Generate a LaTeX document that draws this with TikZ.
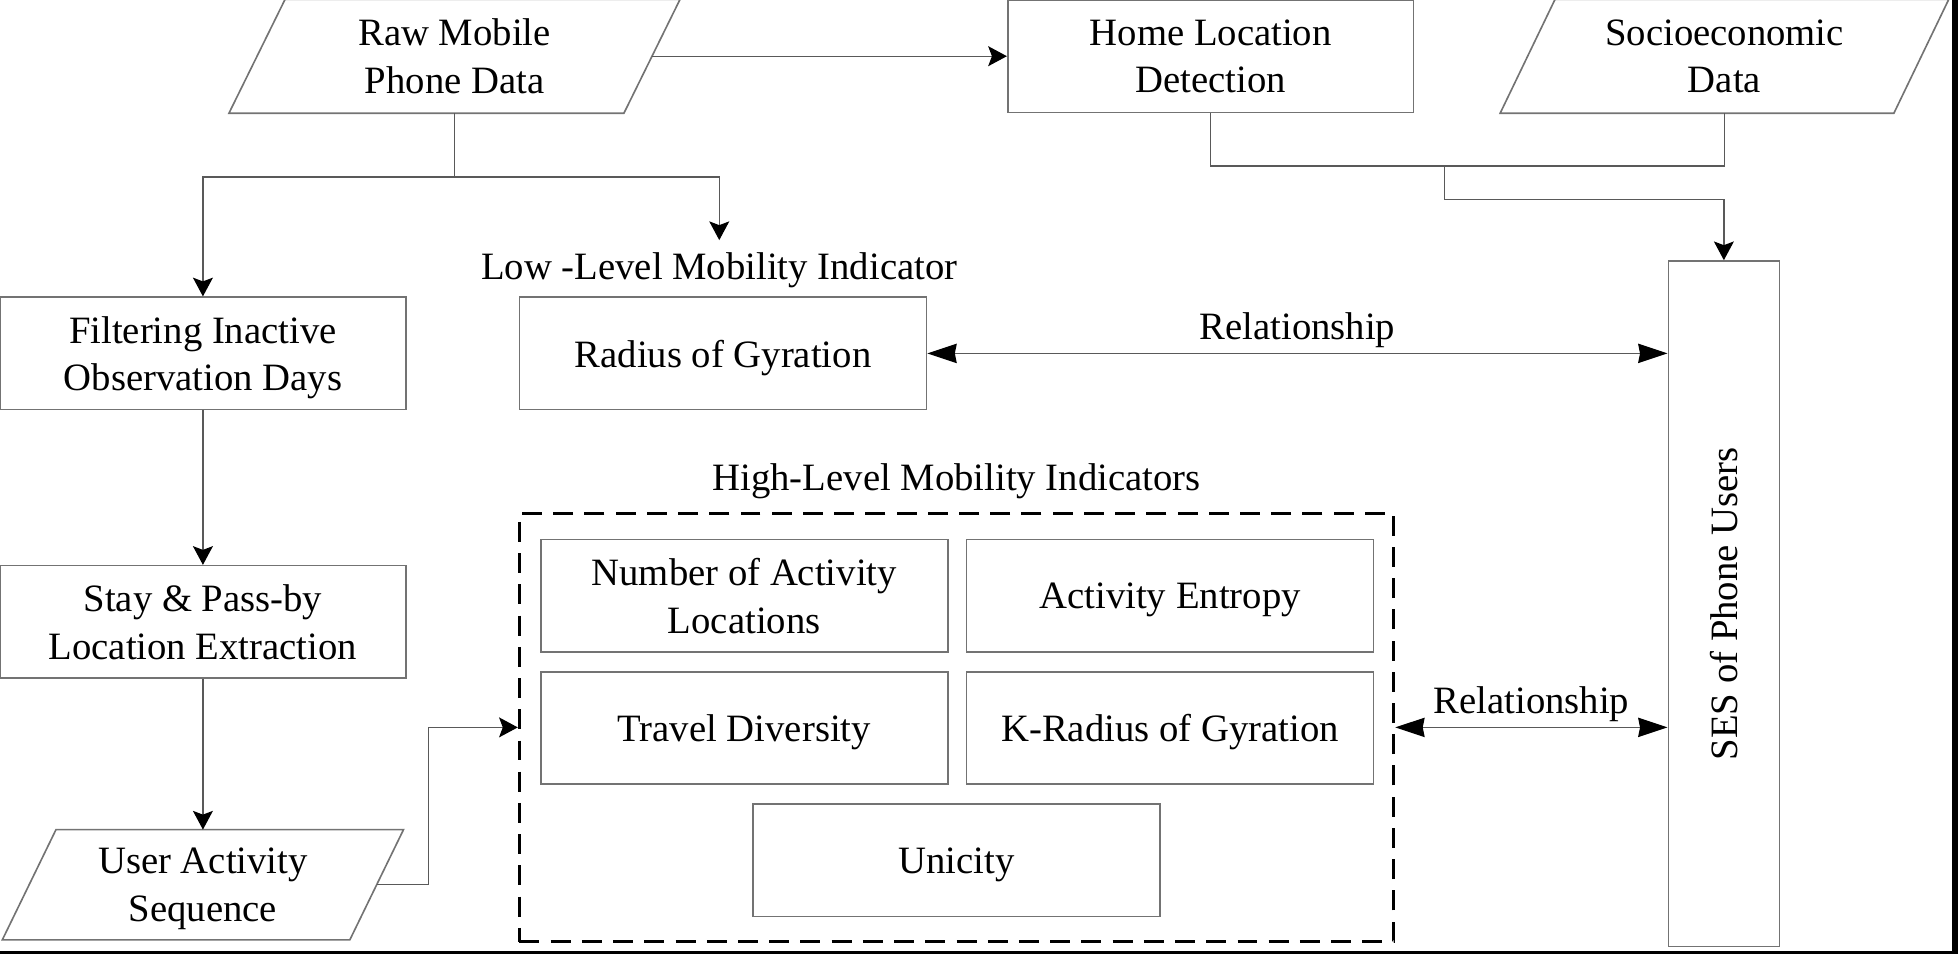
\documentclass[tikz,border=0pt]{standalone}
\usepackage{fontspec}
\setmainfont{Liberation Serif}
\usetikzlibrary{arrows.meta,calc}
\definecolor{boxgray}{gray}{0.45}
\definecolor{linegray}{gray}{0.35}
\tikzset{
    box/.style={draw=boxgray, line width=1.3pt, minimum width=325pt, minimum height=90pt,
        inner sep=0pt, text depth=0pt, align=center, font=\fontsize{31}{38}\selectfont},
    databox/.style={box, draw=none},
    slanted/.style={draw=boxgray, line width=1.3pt},
    tag/.style={inner sep=2pt, font=\fontsize{31}{38}\selectfont},
    conn/.style={draw=linegray, line width=1pt},
    arr/.style={conn, -{Stealth[length=15pt,width=16pt,inset=3pt,color=black]}},
    relarr/.style={conn, {Stealth[length=23.5pt,width=15.5pt,inset=1.5pt,color=black]}-{Stealth[length=23.5pt,width=15.5pt,inset=1.5pt,color=black]}},
    dashbox/.style={draw=black, line width=2.7pt, dash pattern=on 16pt off 9pt}
}
\begin{document}
\begin{tikzpicture}[x=1pt,y=-1pt]
    \useasboundingbox (0,0) rectangle (1568,764);

    % Inputs
    \node[databox, minimum width=315pt] (raw) at (364,45) {Raw Mobile\\Phone Data};
    \draw[slanted] ([xshift=22.5pt]raw.north west) -- ([xshift=22.5pt]raw.north east)
        -- ([xshift=-22.5pt]raw.south east) -- ([xshift=-22.5pt]raw.south west) -- cycle;
    \node[box] (home) at (969.5,45) {Home Location\\Detection};
    \node[databox, minimum width=314pt] (socio) at (1381,45) {Socioeconomic\\Data};
    \draw[slanted] ([xshift=22pt]socio.north west) -- ([xshift=22pt]socio.north east)
        -- ([xshift=-22pt]socio.south east) -- ([xshift=-22pt]socio.south west) -- cycle;

    % Preprocessing
    \node[box] (filter) at (162.5,283) {Filtering Inactive\\Observation Days};
    \node[box] (stay) at (162.5,498) {Stay \& Pass-by\\Location Extraction};
    \node[databox, minimum width=277pt, minimum height=87pt] (user) at (162.5,708.5) {User Activity\\Sequence};
    \draw[slanted] ([xshift=21.5pt]user.north west) -- ([xshift=21.5pt]user.north east)
        -- ([xshift=-21.5pt]user.south east) -- ([xshift=-21.5pt]user.south west) -- cycle;

    % Low-level indicator
    \node[tag, anchor=base] (lowtag) at (576,224) {Low -Level Mobility Indicator};
    \node[box, minimum width=326pt] (radius) at (579,283) {Radius of Gyration};

    % High-level indicators
    \node[tag, anchor=base] (hightag) at (766,393) {High-Level Mobility Indicators};
    \node[dashbox, minimum width=700pt, minimum height=343pt] (high) at (766,582.5) {};
    \node[box, minimum width=326pt] (number) at (596,477) {Number of Activity\\Locations};
    \node[box, minimum width=326pt] (entropy) at (937,477) {Activity Entropy};
    \node[box, minimum width=326pt] (travel) at (596,583) {Travel Diversity};
    \node[box, minimum width=326pt] (kradius) at (937,583) {K-Radius of Gyration};
    \node[box, minimum width=326pt] (unicity) at (766,689) {Unicity};

    % Outcome
    \node[box, rotate=90, minimum width=549pt, minimum height=89pt] (ses) at (1380.5,483.5) {SES of Phone Users};

    % Connectors
    \draw[arr] (raw.east) -- (home.west);
    \draw[conn] (raw.south) -- ++(0,51) coordinate (split);
    \draw[arr] (split) -| (filter.north);
    \draw[arr] (split) -| ([yshift=8pt]lowtag.north);
    \draw[arr] (filter.south) -- (stay.north);
    \draw[arr] (stay.south) -- (user.north);
    \draw[arr] (user.east) -- ++(41.5,0) |- (high.west);
    \coordinate (join) at (1157,133);
    \draw[conn] (home.south) |- (join) -| (socio.south);
    \draw[arr] (join) -- ++(0,27) -| (ses.east);
    \draw[relarr] (radius.east) -- node[tag, above, inner sep=4pt] {Relationship} (radius.east -| ses.north);
    \draw[relarr] (high.east) -- node[tag, above, inner sep=4pt] {Relationship} (high.east -| ses.north);

    % Frame edges
    \fill[black] (1563,0) rectangle (1568,764);
    \fill[black] (0,761.5) rectangle (1568,764);
\end{tikzpicture}
\end{document}
